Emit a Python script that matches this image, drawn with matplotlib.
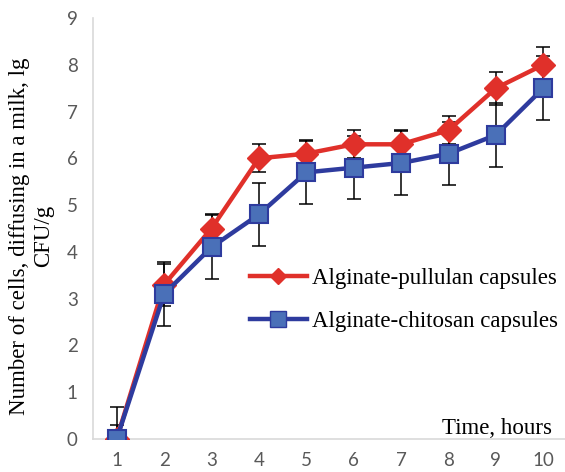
import numpy as np
import matplotlib.pyplot as plt
from matplotlib.lines import Line2D

# -- data --
hours = [1, 2, 3, 4, 5, 6, 7, 8, 9, 10]
pullulan = [0.0, 3.3, 4.5, 6.0, 6.1, 6.3, 6.3, 6.6, 7.5, 8.0]
pullulan_err = [0.3, 0.45, 0.3, 0.3, 0.3, 0.3, 0.3, 0.3, 0.35, 0.38]
chitosan = [0.0, 3.1, 4.1, 4.8, 5.7, 5.8, 5.9, 6.1, 6.5, 7.5]
chitosan_err = [0.68, 0.68, 0.68, 0.68, 0.68, 0.68, 0.68, 0.68, 0.68, 0.68]
yticks = [0, 1, 2, 3, 4, 5, 6, 7, 8, 9]
labels = ['Alginate-pullulan capsules', 'Alginate-chitosan capsules']

red = '#E0302A'
blue = '#2E3B9E'
blue_fill = '#4A70B8'
serif = 'Liberation Serif'

fig = plt.figure(figsize=(5.65, 4.72), dpi=100)
ax = fig.add_axes([93 / 565, 33 / 472, 474 / 565, 421 / 472])

# error bars first so the markers sit on top
ax.errorbar(hours, pullulan, yerr=pullulan_err, fmt='none', ecolor='black',
            elinewidth=1.1, capsize=5, capthick=1.1, zorder=2)
ax.errorbar(hours, chitosan, yerr=chitosan_err, fmt='none', ecolor='black',
            elinewidth=1.1, capsize=5, capthick=1.1, zorder=2)

ax.plot(hours, pullulan, color=red, lw=3.2, marker='D', markersize=12.5,
        markerfacecolor=red, markeredgecolor=red, zorder=3)
ax.plot(hours, chitosan, color=blue, lw=3.2, marker='s', markersize=13,
        markerfacecolor=blue_fill, markeredgecolor=blue, markeredgewidth=1.5,
        zorder=4)

ax.set_xlim(0.5, 10.5)
ax.set_ylim(0, 9)
ax.set_xticks(hours)
ax.set_yticks(yticks)
ax.tick_params(length=0, labelsize=13.5, labelcolor='#595959', pad=11)
ax.tick_params(axis='x', pad=9)
for lab in ax.get_xticklabels() + ax.get_yticklabels():
    lab.set_family('Lato')

for side in ['top', 'right']:
    ax.spines[side].set_visible(False)
for side in ['left', 'bottom']:
    ax.spines[side].set_color('#D9D9D9')
    ax.spines[side].set_linewidth(1.2)

fig.text(0.056, 0.5, 'Number of cells, diffusing in a milk, lg\nCFU/g',
         rotation=90, ha='center', va='center', family=serif, fontsize=16.5,
         linespacing=1.15)
fig.text(552 / 565, (472 - 428) / 472, 'Time, hours', ha='right',
         va='center', family=serif, fontsize=16.5)

handles = [
    Line2D([], [], color=red, lw=3.2, marker='D', markersize=8),
    Line2D([], [], color=blue, lw=3.2, marker='s', markersize=11,
           markerfacecolor=blue_fill, markeredgecolor=blue),
]
ax.legend(handles, labels,
          loc='center left', bbox_to_anchor=(229 / 565, (472 - 300) / 472),
          bbox_transform=fig.transFigure, frameon=False,
          prop={'family': serif, 'size': 16.5}, handlelength=2.5,
          handletextpad=0.2, labelspacing=0.95)

fig.savefig('out.png', dpi=100)
